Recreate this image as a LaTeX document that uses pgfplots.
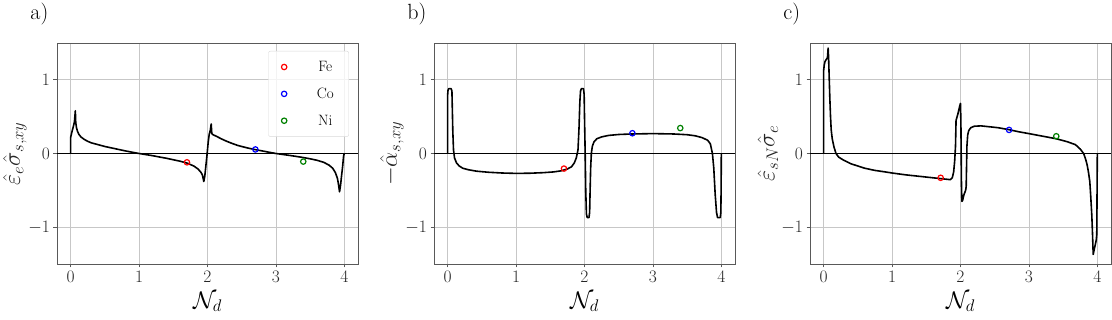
\RequirePackage{fix-cm}
\documentclass[border=0pt]{standalone}
\usepackage{fontspec}
\usepackage{amsmath}
\usepackage{pgfplots}
\pgfplotsset{compat=1.18}
\definecolor{mred}{RGB}{255,0,0}
\definecolor{mblue}{RGB}{0,0,255}
\definecolor{mgreen}{RGB}{0,128,0}
\newcommand{\tickfont}{\fontsize{17.5}{21}\selectfont}
\newcommand{\labfont}{\fontsize{24}{28}\selectfont}
\newcommand{\titfont}{\fontsize{22}{26}\selectfont}
\pgfplotsset{
  panel/.style={
    scale only axis, width=301pt, height=221pt,
    xmin=-0.2, xmax=4.2, ymin=-1.5, ymax=1.5,
    xtick={0,1,2,3,4}, ytick={-1,0,1},
    grid=major, grid style={color=black!22, line width=0.8pt},
    axis line style={black!65, line width=0.8pt},
    tick style={black!65, line width=0.8pt},
    tick align=outside, tick pos=left, major tick length=3.5pt,
    ticklabel style={font=\tickfont, text=black!85},
    xlabel={$\mathcal{N}_d$},
    xlabel style={font=\labfont, at={(axis description cs:0.5,-0.2)}, anchor=base, inner sep=0pt},
    ylabel style={font=\labfont, text=black!85, at={(axis description cs:-0.14,0.5)}, anchor=center},
    title style={font=\titfont, anchor=base west, at={(axis description cs:-0.1,1.081)}},
    anchor=south west,
  },
  curve/.style={black, line width=1.6pt, line join=round},
  zline/.style={black, line width=0.8pt, forget plot},
  mk/.style={only marks, mark=o, mark size=2.7pt, line width=1.2pt},
}
\begin{document}
\begin{tikzpicture}
\path[use as bounding box] (0,0) rectangle (1112pt,320pt);
% ---------------- a ----------------
\begin{axis}[panel, at={(57pt,56pt)},
  title={a)},
  ylabel={$\hat{\varepsilon}_e\hat{\sigma}_{s,xy}$},
  legend style={at={(axis description cs:0.97,0.964)}, anchor=north east,
    draw=black!15, rounded corners=2pt, fill=white, fill opacity=0.8, text opacity=1,
    font=\fontsize{15}{18}\selectfont, inner xsep=13pt, inner ysep=8pt, row sep=11pt,
    /tikz/every odd column/.append style={column sep=28pt}},
  legend image code/.code={\draw[mark repeat=2,mark phase=2,#1] plot coordinates {(0pt,0pt) (12pt,0pt) (24pt,0pt)};},
]
\addplot[zline] coordinates {(-0.2,0) (4.2,0)};
\addplot[curve, forget plot] coordinates {
(0,0) (0,0.22) (0.02,0.3) (0.04,0.37) (0.055,0.43) (0.068,0.58) (0.074,0.42) (0.085,0.35)
(0.1,0.3) (0.12,0.26) (0.15,0.225) (0.2,0.19) (0.25,0.165) (0.3,0.145) (0.4,0.12) (0.5,0.095)
(0.6,0.075) (0.7,0.055) (0.8,0.035) (0.9,0.017) (1.0,0.0) (1.1,-0.015) (1.2,-0.03) (1.3,-0.048)
(1.4,-0.065) (1.5,-0.085) (1.6,-0.105) (1.7,-0.13) (1.8,-0.17) (1.86,-0.21) (1.9,-0.25)
(1.925,-0.29) (1.946,-0.38) (1.96,-0.31) (1.975,-0.18) (1.995,0.0) (2.01,0.15) (2.025,0.26)
(2.04,0.31) (2.054,0.40) (2.063,0.27) (2.08,0.255) (2.13,0.234) (2.2,0.2) (2.27,0.17)
(2.35,0.14) (2.44,0.11) (2.5,0.095) (2.6,0.072) (2.7,0.052) (2.8,0.035) (2.9,0.017) (3.0,0.0)
(3.1,-0.013) (3.2,-0.026) (3.3,-0.04) (3.4,-0.055) (3.5,-0.072) (3.6,-0.092) (3.7,-0.12)
(3.78,-0.16) (3.83,-0.2) (3.87,-0.26) (3.9,-0.34) (3.915,-0.42) (3.93,-0.52) (3.945,-0.43)
(3.96,-0.3) (3.975,-0.18) (3.99,-0.03) (4.0,0.0)};
\addplot[mk, mred] coordinates {(1.7,-0.12)}; \addlegendentry{Fe}
\addplot[mk, mblue] coordinates {(2.7,0.055)}; \addlegendentry{Co}
\addplot[mk, mgreen] coordinates {(3.4,-0.11)}; \addlegendentry{Ni}
\end{axis}
% ---------------- b ----------------
\begin{axis}[panel, at={(434pt,56pt)},
  title={b)},
  ylabel={$-\hat{\alpha}_{s,xy}$},
]
\addplot[zline] coordinates {(-0.2,0) (4.2,0)};
\addplot[curve] coordinates {
(0,0) (0,0.8) (0.005,0.86) (0.015,0.88) (0.05,0.88) (0.062,0.85) (0.068,0.6) (0.075,0.3)
(0.085,0.05) (0.1,-0.06) (0.13,-0.13) (0.17,-0.17) (0.22,-0.2) (0.3,-0.22) (0.42,-0.24)
(0.6,-0.255) (0.8,-0.265) (1.0,-0.27) (1.2,-0.268) (1.4,-0.26) (1.55,-0.25) (1.66,-0.235)
(1.75,-0.21) (1.81,-0.18) (1.85,-0.13) (1.88,-0.06) (1.905,0.05) (1.92,0.35) (1.932,0.7)
(1.942,0.85) (1.955,0.88) (1.985,0.88) (1.995,0.8) (2.0,0.5) (2.01,0.0) (2.018,-0.5)
(2.028,-0.82) (2.04,-0.87) (2.065,-0.87) (2.075,-0.8) (2.082,-0.5) (2.09,-0.2) (2.1,0.0)
(2.115,0.1) (2.14,0.16) (2.18,0.2) (2.25,0.225) (2.35,0.245) (2.5,0.258) (2.7,0.265)
(3.0,0.27) (3.3,0.265) (3.5,0.255) (3.62,0.24) (3.72,0.215) (3.8,0.18) (3.84,0.13)
(3.87,0.0) (3.89,-0.2) (3.91,-0.55) (3.93,-0.8) (3.945,-0.87) (3.985,-0.87) (3.993,-0.8)
(3.997,-0.5) (4.0,0.0)};
\addplot[mk, mred] coordinates {(1.7,-0.205)};
\addplot[mk, mblue] coordinates {(2.7,0.275)};
\addplot[mk, mgreen] coordinates {(3.4,0.345)};
\end{axis}
% ---------------- c ----------------
\begin{axis}[panel, at={(810pt,56pt)},
  title={c)},
  ylabel={$\hat{\varepsilon}_{sN}\hat{\sigma}_e$},
]
\addplot[zline] coordinates {(-0.2,0) (4.2,0)};
\addplot[curve] coordinates {
(0,0) (0,1.13) (0.008,1.2) (0.02,1.25) (0.04,1.28) (0.055,1.3) (0.065,1.43) (0.072,1.3)
(0.08,1.05) (0.09,0.75) (0.1,0.5) (0.11,0.32) (0.125,0.2) (0.15,0.09) (0.18,0.0) (0.22,-0.05)
(0.29,-0.09) (0.4,-0.14) (0.5,-0.17) (0.6,-0.2) (0.75,-0.23) (0.9,-0.25) (1.0,-0.265)
(1.2,-0.29) (1.4,-0.31) (1.6,-0.33) (1.75,-0.345) (1.85,-0.355) (1.88,-0.33) (1.9,-0.25)
(1.915,-0.1) (1.927,0.1) (1.935,0.45) (1.96,0.53) (1.99,0.65) (2.0,0.68) (2.006,0.4)
(2.014,-0.4) (2.02,-0.65) (2.03,-0.64) (2.05,-0.56) (2.075,-0.5) (2.083,-0.45) (2.088,-0.2)
(2.094,0.1) (2.105,0.25) (2.12,0.31) (2.15,0.35) (2.2,0.37) (2.3,0.375) (2.4,0.365)
(2.55,0.35) (2.7,0.325) (2.85,0.295) (3.0,0.27) (3.2,0.235) (3.4,0.2) (3.56,0.16)
(3.68,0.12) (3.75,0.06) (3.8,0.0) (3.83,-0.08) (3.85,-0.15) (3.87,-0.25) (3.89,-0.38)
(3.905,-0.6) (3.92,-0.85) (3.93,-1.1) (3.94,-1.37) (3.955,-1.3) (3.97,-1.24) (3.985,-1.17)
(3.992,-1.1) (4.0,0.0)};
\addplot[mk, mred] coordinates {(1.71,-0.33)};
\addplot[mk, mblue] coordinates {(2.71,0.32)};
\addplot[mk, mgreen] coordinates {(3.4,0.234)};
\end{axis}
\end{tikzpicture}
\end{document}
